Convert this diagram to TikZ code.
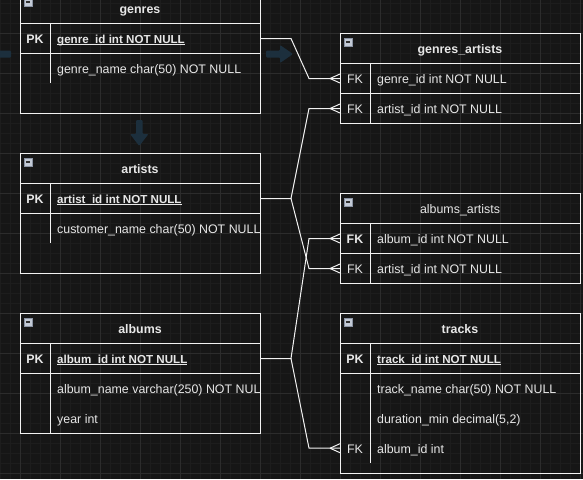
\documentclass[tikz,border=0pt]{standalone}
\usepackage{fontspec}
\setmainfont{Liberation Sans}
\definecolor{bgc}{HTML}{161616}
\definecolor{minorc}{HTML}{1D1D1D}
\definecolor{majorc}{HTML}{2C2C2C}
\definecolor{linec}{HTML}{F2F2F2}
\definecolor{txtc}{HTML}{E8E8E8}
\definecolor{hintc}{HTML}{1C2F3D}
\definecolor{icf}{HTML}{C3CAD6}
\definecolor{icb}{HTML}{8A93A3}
\definecolor{icd}{HTML}{303030}
\tikzset{
  tbl/.style={draw=linec, line width=1pt, anchor=north west, minimum width=240pt, inner sep=0pt},
  rowbox/.style={draw=linec, line width=1pt, anchor=north west, minimum width=240pt, minimum height=30pt, inner sep=0pt},
  rowfree/.style={anchor=north west, minimum width=240pt, minimum height=30pt, inner sep=0pt},
  divider/.style={draw=linec, line width=1pt},
  ttl/.style={anchor=base, text=txtc, inner sep=0pt, font=\fontsize{12.4}{14}\selectfont\bfseries},
  ttlr/.style={anchor=base, text=txtc, inner sep=0pt, font=\fontsize{12.4}{14}\selectfont},
  fld/.style={anchor=base west, text=txtc, inner sep=0pt, font=\fontsize{12.4}{14}\selectfont},
  pkfld/.style={fld, font=\fontsize{11.6}{14}\selectfont\bfseries},
  key/.style={anchor=base, text=txtc, inner sep=0pt, font=\fontsize{12.4}{14}\selectfont},
  bkey/.style={key, font=\fontsize{12.4}{14}\selectfont\bfseries},
  icon/.style={draw=icb, fill=icf, minimum size=8pt, inner sep=0pt, line width=0.6pt,
    path picture={\draw[icd, line width=1.3pt] ([xshift=1.8pt]path picture bounding box.west) -- ([xshift=-1.8pt]path picture bounding box.east);}},
  conn/.style={draw=linec, line width=1pt},
  hint/.style={fill=hintc, rounded corners=1pt},
  minorg/.style={draw=minorc, line width=0.6pt},
  majorg/.style={draw=majorc, line width=0.8pt},
}
\newcommand\crowfoot[1]{\draw[conn] ([xshift=-10pt]#1.west) -- ([yshift=4.5pt]#1.west) ([xshift=-10pt]#1.west) -- ([yshift=-4.5pt]#1.west);}
\newcommand\ul[1]{\underline{\smash{#1}}}
\begin{document}
\begin{tikzpicture}[x=1pt,y=-1pt]
\useasboundingbox (0,0) rectangle (583,479);
\clip (0,0) rectangle (583,479);
\fill[bgc] (0,0) rectangle (583,479);
\foreach \i in {0,...,58} \draw[minorg] (\i*10,0) -- (\i*10,479);
\foreach \j in {0,...,47} \draw[minorg] (0,\j*10+3) -- (583,\j*10+3);
\foreach \i in {0,...,14} \draw[majorg] (20+\i*40,0) -- (20+\i*40,479);
\foreach \j in {0,...,12} \draw[majorg] (0,\j*40-7) -- (583,\j*40-7);

% faded hint arrows
\fill[hint] (-6,50.5) rectangle (11,57.5);
\fill[hint] (266,50.5) -- (280,50.5) -- (280,45) -- (293,54) -- (280,63) -- (280,57.5) -- (266,57.5) -- cycle;
\fill[hint] (136,120) -- (142.5,120) -- (142.5,134) -- (148.5,134) -- (139.25,146) -- (130,134) -- (136,134) -- cycle;

% ---------- genres ----------
\node[tbl, minimum height=120pt] (genres) at (20,-7) {};
\node[icon] (genres-icon) at (28,2) {};
\node[ttl] (genres-title) at (140,13) {genres};
\node[rowbox] (genres-pk) at (20,23) {};
\draw[divider] (50,23) -- (50,83);
\node[bkey] (genres-k1) at (35,43) {PK};
\node[pkfld] (genres-f1) at (57,43) {\ul{genre\_id int NOT NULL}};
\node[fld] (genres-f2) at (57,73) {genre\_name char(50) NOT NULL};

% ---------- artists ----------
\node[tbl, minimum height=120pt] (artists) at (20,153) {};
\node[icon] (artists-icon) at (28,162) {};
\node[ttl] (artists-title) at (140,173) {artists};
\node[rowbox] (artists-pk) at (20,183) {};
\draw[divider] (50,183) -- (50,243);
\node[bkey] (artists-k1) at (35,203) {PK};
\node[pkfld] (artists-f1) at (57,203) {\ul{artist\_id int NOT NULL}};
\begin{scope}
\clip (20,213) rectangle (259.5,243);
\node[fld] (artists-f2) at (57,233) {customer\_name char(50) NOT NULL};
\end{scope}

% ---------- albums ----------
\node[tbl, minimum height=120pt] (albums) at (20,313) {};
\node[icon] (albums-icon) at (28,322) {};
\node[ttl] (albums-title) at (140,333) {albums};
\node[rowbox] (albums-pk) at (20,343) {};
\draw[divider] (50,343) -- (50,433);
\node[bkey] (albums-k1) at (35,363) {PK};
\node[pkfld] (albums-f1) at (57,363) {\ul{album\_id int NOT NULL}};
\begin{scope}
\clip (20,373) rectangle (259.5,403);
\node[fld] (albums-f2) at (57,393) {album\_name varchar(250) NOT NUL};
\end{scope}
\node[fld] (albums-f3) at (57,423) {year int};

% ---------- genres_artists ----------
\node[tbl, minimum height=90pt] (ga) at (340,33) {};
\node[icon] (ga-icon) at (348,42) {};
\node[ttl] (ga-title) at (460,53) {genres\_artists};
\node[rowbox] (ga-genre) at (340,63) {};
\node[rowbox] (ga-artist) at (340,93) {};
\draw[divider] (370,63) -- (370,123);
\node[key] (ga-k1) at (355,83) {FK};
\node[fld] (ga-f1) at (377,83) {genre\_id int NOT NULL};
\node[key] (ga-k2) at (355,113) {FK};
\node[fld] (ga-f2) at (377,113) {artist\_id int NOT NULL};

% ---------- albums_artists ----------
\node[tbl, minimum height=90pt] (aa) at (340,193) {};
\node[icon] (aa-icon) at (348,202) {};
\node[ttlr] (aa-title) at (460,213) {albums\_artists};
\node[rowbox] (aa-album) at (340,223) {};
\node[rowbox] (aa-artist) at (340,253) {};
\draw[divider] (370,223) -- (370,283);
\node[bkey] (aa-k1) at (355,243) {FK};
\node[fld] (aa-f1) at (377,243) {album\_id int NOT NULL};
\node[key] (aa-k2) at (355,273) {FK};
\node[fld] (aa-f2) at (377,273) {artist\_id int NOT NULL};

% ---------- tracks ----------
\node[tbl, minimum height=160pt] (tracks) at (340,313) {};
\node[icon] (tracks-icon) at (348,322) {};
\node[ttl] (tracks-title) at (460,333) {tracks};
\node[rowbox] (tracks-pk) at (340,343) {};
\node[rowfree] (tracks-album) at (340,433) {};
\draw[divider] (370,343) -- (370,463);
\node[bkey] (tracks-k1) at (355,363) {PK};
\node[pkfld] (tracks-f1) at (377,363) {\ul{track\_id int NOT NULL}};
\node[fld] (tracks-f2) at (377,393) {track\_name char(50) NOT NULL};
\node[fld] (tracks-f3) at (377,423) {duration\_min decimal(5,2)};
\node[key] (tracks-k4) at (355,453) {FK};
\node[fld] (tracks-f4) at (377,453) {album\_id int};

% ---------- connectors ----------
\draw[conn] (genres-pk.east) -- ++(30,0) -- ([xshift=-31pt]ga-genre.west) -- (ga-genre.west);
\crowfoot{ga-genre}
\draw[conn] (artists-pk.east) -- ++(30,0) -- ([xshift=-31pt]ga-artist.west) -- (ga-artist.west);
\crowfoot{ga-artist}
\draw[conn] ([xshift=30pt]artists-pk.east) -- ([xshift=-31pt]aa-artist.west) -- (aa-artist.west);
\crowfoot{aa-artist}
\draw[conn] (albums-pk.east) -- ++(30,0) -- ([xshift=-31pt]aa-album.west) -- (aa-album.west);
\crowfoot{aa-album}
\draw[conn] ([xshift=30pt]albums-pk.east) -- ([xshift=-31pt]tracks-album.west) -- (tracks-album.west);
\crowfoot{tracks-album}
\end{tikzpicture}
\end{document}
